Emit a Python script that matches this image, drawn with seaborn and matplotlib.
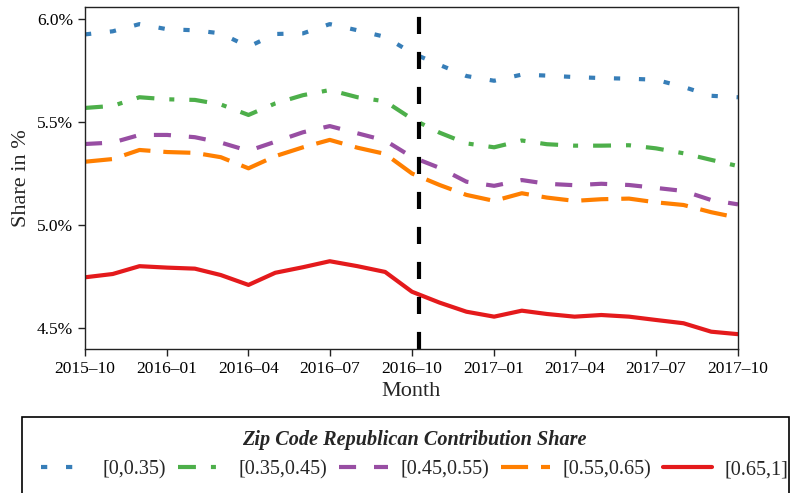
import matplotlib
matplotlib.use("Agg")
import matplotlib.pyplot as plt
import matplotlib.dates as mdates
from matplotlib.lines import Line2D
from matplotlib.patches import Rectangle
import numpy as np
import pandas as pd
import seaborn as sns

# ---- data (share in %) ----
months = pd.date_range("2015-10-01", "2017-10-01", freq="MS")
groups = ["[0,0.35)", "[0.35,0.45)", "[0.45,0.55)", "[0.55,0.65)", "[0.65,1]"]
share_0_035 = [5.925, 5.94, 5.975, 5.95, 5.945, 5.93, 5.865, 5.927, 5.93, 5.975, 5.945, 5.913,
               5.835, 5.777, 5.723, 5.70, 5.73, 5.725, 5.718, 5.713, 5.71, 5.705, 5.67, 5.627, 5.62]
share_035_045 = [5.568, 5.578, 5.62, 5.61, 5.607, 5.585, 5.534, 5.59, 5.63, 5.655, 5.62, 5.60,
                 5.515, 5.448, 5.396, 5.377, 5.41, 5.392, 5.385, 5.385, 5.387, 5.372, 5.348, 5.316, 5.286]
share_045_055 = [5.393, 5.40, 5.437, 5.437, 5.426, 5.40, 5.36, 5.404, 5.45, 5.48, 5.445, 5.41,
                 5.33, 5.277, 5.21, 5.19, 5.218, 5.2, 5.193, 5.2, 5.194, 5.18, 5.165, 5.121, 5.10]
share_055_065 = [5.307, 5.32, 5.364, 5.354, 5.35, 5.329, 5.275, 5.334, 5.377, 5.413, 5.375, 5.345,
                 5.25, 5.194, 5.146, 5.117, 5.154, 5.133, 5.117, 5.125, 5.128, 5.11, 5.097, 5.062, 5.035]
share_065_1 = [4.746, 4.762, 4.80, 4.793, 4.788, 4.757, 4.709, 4.768, 4.795, 4.824, 4.80, 4.772,
               4.676, 4.623, 4.579, 4.555, 4.584, 4.568, 4.555, 4.563, 4.555, 4.539, 4.523, 4.482, 4.47]
event_date = pd.Timestamp("2016-10-09")
y_ticks = [4.5, 5.0, 5.5, 6.0]

series = [share_0_035, share_035_045, share_045_055, share_055_065, share_065_1]
df = pd.DataFrame({
    "Month": np.tile(months, len(groups)),
    "Share": np.concatenate(series),
    "Group": np.repeat(groups, len(months)),
})

colors = ["#377eb8", "#4daf4a", "#984ea3", "#ff7f00", "#e41a1c"]
palette = dict(zip(groups, colors))
dash_list = [(1.5, 4.5), (4.3, 3.6, 1.2, 3.6), (4.1, 4.3), (6.5, 3.1), ""]
dashes = dict(zip(groups, dash_list))

sns.set_theme(style="ticks")
plt.rcParams["font.family"] = ["Liberation Serif", "DejaVu Serif"]
plt.rcParams["axes.edgecolor"] = "#222222"
plt.rcParams["axes.linewidth"] = 1.0

W, H = 791, 493
fig = plt.figure(figsize=(W / 100, H / 100), dpi=100)
ax = fig.add_axes([85 / W, 1 - 349 / H, (738 - 85) / W, (349 - 7) / H])

LW = 3.0
sns.lineplot(data=df, x="Month", y="Share", hue="Group", style="Group",
             hue_order=groups, style_order=groups, palette=palette, dashes=dashes,
             linewidth=LW, ax=ax, legend=False)

ax.axvline(event_date, color="black", linewidth=3.0, dashes=(4.1, 4.3))

ax.set_xlim(months[0], months[-1])
ax.set_ylim(4.398, 6.058)
ax.set_yticks(y_ticks)
ax.set_yticklabels([f"{v:.1f}%" for v in y_ticks])
ax.xaxis.set_major_locator(mdates.MonthLocator(bymonth=[1, 4, 7, 10]))
ax.xaxis.set_major_formatter(mdates.DateFormatter("%Y\u2013%m"))
ax.tick_params(axis="both", labelsize=12.5, length=5, width=1, colors="#222222",
               labelcolor="black")
ax.set_xlabel("Month", fontsize=16)
ax.set_ylabel("Share in %", fontsize=16)
for s in ax.spines.values():
    s.set_visible(True)

# legend
handles = []
for c, d in zip(colors, dash_list):
    h = Line2D([], [], color=c, linewidth=LW, linestyle="-")
    if d != "":
        h.set_dashes(d)
    handles.append(h)
leg = fig.legend(handles, groups, loc="upper left",
                 bbox_to_anchor=(41 / W, 1 - 430 / H),
                 ncol=5, fontsize=14.5, handlelength=2.43, handletextpad=0.6,
                 columnspacing=0.6, borderpad=0.0, borderaxespad=0.0,
                 frameon=False,
                 title="Zip Code Republican Contribution Share",
                 title_fontproperties={"weight": "bold", "style": "italic", "size": 14.6})
fig.add_artist(Rectangle((21.7 / W, -0.05), (789 - 21.7) / W, (1 - 416.7 / H) + 0.05,
                         transform=fig.transFigure, fill=False, edgecolor="black",
                         linewidth=1.2, clip_on=False))

fig.savefig("out.png", dpi=100)
